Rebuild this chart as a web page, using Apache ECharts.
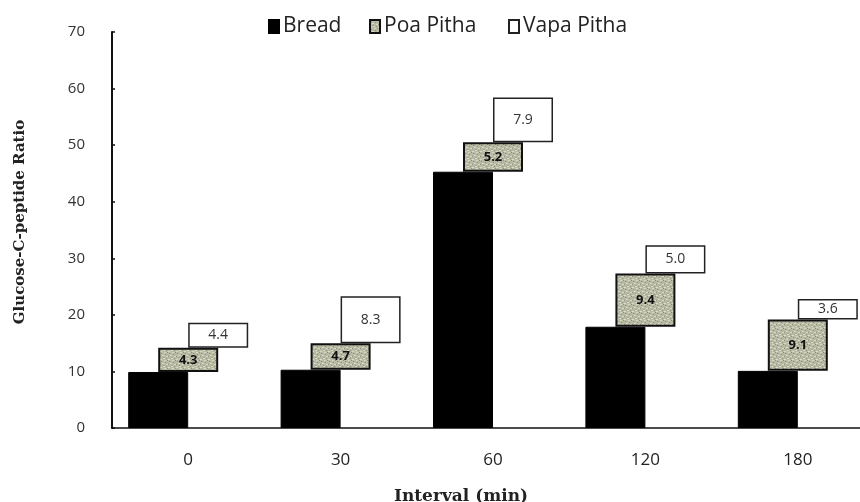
<!DOCTYPE html>
<html><head><meta charset="utf-8">
<script src="https://cdn.jsdelivr.net/npm/echarts@6/dist/echarts.min.js"></script>
<style>html,body{margin:0;padding:0;background:#fff}#chart{width:860px;height:502px}</style>
</head><body><div id="chart"></div>
<script>
// Sampling intervals (minutes)
const intervals = ['0', '30', '60', '120', '180'];
// Glucose-C-peptide ratio per food
const bread     = [9.9, 10.3, 45.3, 17.9, 10.1];
const poaPitha  = [4.3, 4.7, 5.2, 9.4, 9.1];
const vapaPitha = [4.4, 8.3, 7.9, 5.0, 3.6];
// Value axis ticks
const yMin = 0, yMax = 70, yStep = 10;

// Floating bases so each food block sits on top of the previous one
const poaBase = bread.map(v => v);
const vapaBase = bread.map((v, i) => v + poaPitha[i]);

// Speckled fill for the Poa Pitha blocks
function speckle() {
  const c = document.createElement('canvas');
  c.width = 8; c.height = 8;
  const g = c.getContext('2d');
  g.fillStyle = '#b8baa4'; g.fillRect(0, 0, 8, 8);
  g.fillStyle = '#8e907a';
  [[1,1],[5,2],[3,5],[6,6],[0,4],[7,0]].forEach(([x, y]) => g.fillRect(x, y, 1, 1));
  g.fillStyle = '#d8d9c8';
  [[2,3],[4,0],[6,4],[0,7],[3,6]].forEach(([x, y]) => g.fillRect(x, y, 2, 1));
  return c;
}
const poaFill = { image: speckle(), repeat: 'repeat' };

const labelFont = 'Open Sans';
const titleFont = 'DejaVu Serif';

const common = { type: 'bar', barWidth: 60, barGap: '-50%', emphasis: { disabled: true } };
const baseSeries = (name, stack, data) => Object.assign({}, common, {
  name, stack, data, silent: true,
  itemStyle: { color: 'rgba(0,0,0,0)', borderWidth: 0 }, label: { show: false }
});

const legendItem = (name, left) => ({
  data: [name], left, top: 11,
  itemWidth: 10, itemHeight: 13, icon: 'rect', itemGap: 0,
  textStyle: { fontFamily: labelFont, fontSize: 21, color: '#222', padding: [0, 0, 0, -1] }
});

const chart = echarts.init(document.getElementById('chart'), null, { renderer: 'canvas' });
chart.setOption({
  animation: false,
  backgroundColor: '#fff',
  grid: { left: 112, width: 762, top: 32, bottom: 74, containLabel: false, outerBoundsMode: 'none' },
  legend: [
    legendItem('Bread', 263),
    legendItem('Poa Pitha', 364),
    legendItem('Vapa Pitha', 503)
  ],
  xAxis: {
    type: 'category', data: intervals, boundaryGap: true,
    axisLine: { lineStyle: { color: '#111', width: 1.5 } },
    axisTick: { show: false },
    axisLabel: { fontFamily: labelFont, fontSize: 17, color: '#222', margin: 24 },
    name: 'Interval (min)', nameLocation: 'middle', nameGap: 60,
    nameTextStyle: { fontFamily: titleFont, fontWeight: 'bold', fontSize: 17, color: '#222', padding: [0, 64, 0, 0] }
  },
  yAxis: {
    type: 'value', min: yMin, max: yMax, interval: yStep,
    axisLine: { show: true, lineStyle: { color: '#111', width: 2 } },
    axisTick: { show: true, inside: true, length: 3, lineStyle: { color: '#111', width: 1.5 } },
    splitLine: { show: false },
    axisLabel: { fontFamily: labelFont, fontSize: 15, color: '#333', margin: 27 },
    name: 'Glucose-C-peptide Ratio', nameLocation: 'middle', nameGap: 84,
    nameTextStyle: { fontFamily: titleFont, fontWeight: 'bold', fontSize: 15, color: '#222', padding: [0, 0, 0, 16] }
  },
  series: [
    Object.assign({}, common, {
      name: 'Bread', stack: 'bread', data: bread,
      itemStyle: { color: '#000', borderColor: '#000', borderWidth: 1 }
    }),
    baseSeries('poaBase', 'poa', poaBase),
    Object.assign({}, common, {
      name: 'Poa Pitha', stack: 'poa', data: poaPitha,
      itemStyle: { color: poaFill, borderColor: '#111', borderWidth: 2 },
      label: { show: true, position: 'inside', fontFamily: labelFont, fontWeight: 'bold', fontSize: 13, color: '#111',
        formatter: p => p.value.toFixed(1) }
    }),
    baseSeries('vapaBase', 'vapa', vapaBase),
    Object.assign({}, common, {
      name: 'Vapa Pitha', stack: 'vapa', data: vapaPitha,
      itemStyle: { color: '#fff', borderColor: '#222', borderWidth: 1.5 },
      label: { show: true, position: 'inside', fontFamily: labelFont, fontSize: 14, color: '#333',
        formatter: p => p.value.toFixed(1) }
    })
  ]
});
</script>
</body></html>
